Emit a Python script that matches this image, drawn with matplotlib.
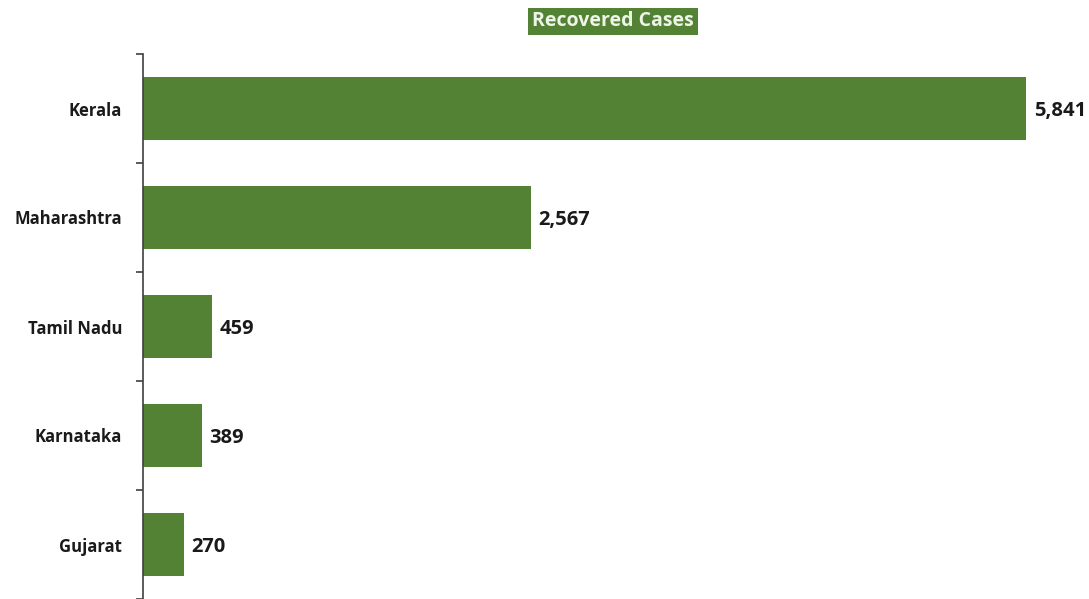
import matplotlib
matplotlib.use("Agg")
import matplotlib.pyplot as plt
from matplotlib.ticker import FixedLocator

states = ["Kerala", "Maharashtra", "Tamil Nadu", "Karnataka", "Gujarat"]
recovered = [5841, 2567, 459, 389, 270]
title = "Recovered Cases"

GREEN = "#548235"
FONT = "Open Sans"
W, H = 1089, 599
fig = plt.figure(figsize=(W / 100, H / 100), dpi=100)
fig.patch.set_facecolor("white")

# axes area in pixels: left edge 143, top 54, bottom at figure bottom
left, top, bottom, right = 143, 54, 599, 1089
ax = fig.add_axes([left / W, 1 - bottom / H, (right - left) / W, (bottom - top) / H])

y = list(range(len(states)))
bars = ax.barh(y, recovered, height=0.58, color=GREEN, edgecolor="none")

ax.set_ylim(len(states) - 0.5, -0.5)
ax.set_xlim(0, 6257)

for s in ["top", "right", "bottom"]:
    ax.spines[s].set_visible(False)
ax.spines["left"].set_color("#404040")
ax.spines["left"].set_linewidth(1.2)
ax.set_xticks([])

ax.set_yticks(y)
ax.set_yticklabels(states, fontfamily=FONT, fontweight="bold", fontsize=12, color="#1a1a1a")
ax.tick_params(axis="y", which="major", length=0, pad=15)
ax.yaxis.set_minor_locator(FixedLocator([i - 0.5 for i in range(len(states) + 1)]))
ax.tick_params(axis="y", which="minor", length=5, width=1.2, color="#404040")

for rect, v in zip(bars, recovered):
    ax.annotate(f"{v:,}", xy=(rect.get_width(), rect.get_y() + rect.get_height() / 2),
                xytext=(5.5, -2), textcoords="offset points", va="center", ha="left",
                fontfamily=FONT, fontweight="bold", fontsize=14.5, color="#1a1a1a",
                annotation_clip=False)

fig.text(613 / W, 1 - 21.5 / H, title, ha="center", va="center",
         fontfamily=FONT, fontweight="bold", fontsize=14, color="#eef5e8",
         bbox=dict(boxstyle="square,pad=0.2", facecolor=GREEN, edgecolor="none"))

fig.savefig("out.png", dpi=100, facecolor="white")
